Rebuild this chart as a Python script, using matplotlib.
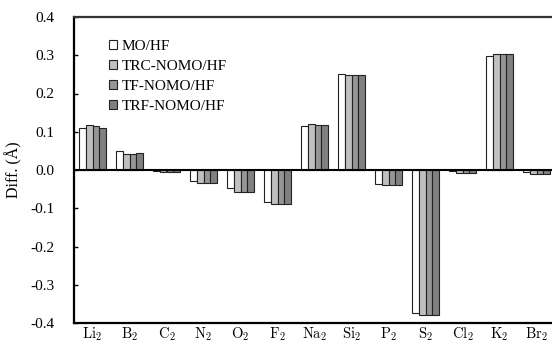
import numpy as np
import matplotlib
matplotlib.use("Agg")
from matplotlib import pyplot as plt

# dados
molecules = ["Li", "B", "C", "N", "O", "F", "Na", "Si", "P", "S", "Cl", "K", "Br"]
series_names = ["MO/HF", "TRC-NOMO/HF", "TF-NOMO/HF", "TRF-NOMO/HF"]
mo_hf = [0.110, 0.050, -0.002, -0.028, -0.048, -0.083, 0.115, 0.252, -0.036, -0.374, -0.003, 0.298, -0.004]
trc_nomo = [0.118, 0.041, -0.005, -0.035, -0.057, -0.090, 0.119, 0.249, -0.038, -0.379, -0.008, 0.304, -0.011]
tf_nomo = [0.116, 0.041, -0.005, -0.035, -0.057, -0.090, 0.117, 0.249, -0.038, -0.379, -0.008, 0.304, -0.011]
trf_nomo = [0.111, 0.044, -0.005, -0.034, -0.057, -0.090, 0.117, 0.249, -0.038, -0.379, -0.008, 0.304, -0.011]
y_ticks = [0.4, 0.3, 0.2, 0.1, 0.0, -0.1, -0.2, -0.3, -0.4]

colors = ["#ffffff", "#c0c0c0", "#969696", "#808080"]

plt.rcParams["font.family"] = ["Liberation Serif", "DejaVu Serif"]
plt.rcParams["mathtext.fontset"] = "cm"


def plot_chart():
    fig = plt.figure(figsize=(5.52, 3.42), dpi=100)
    # eixo passa um pouco da borda direita, como na imagem original
    ax = fig.add_axes([74 / 552, 19 / 342, 481 / 552, 306 / 342])

    x = np.arange(len(molecules))
    width = 0.18
    all_series = [mo_hf, trc_nomo, tf_nomo, trf_nomo]
    for i, values in enumerate(all_series):
        ax.bar(x + (i - 1.5) * width, values, width, color=colors[i],
               edgecolor="#222222", linewidth=0.8, label=series_names[i])

    ax.axhline(0, color="black", linewidth=1.5)
    ax.set_xlim(-0.5, len(molecules) - 0.5)
    ax.set_ylim(-0.4, 0.4)
    ax.set_yticks(y_ticks)
    ax.set_yticklabels(["%.1f" % t for t in y_ticks], fontsize=11)
    ax.tick_params(axis="y", direction="in", length=3, width=1, pad=14)
    ax.set_xticks(x)
    ax.set_xticklabels([r"$\mathrm{%s}_2$" % m for m in molecules], fontsize=10.5)
    ax.tick_params(axis="x", length=0, pad=2)
    ax.set_ylabel(u"Diff. (Å)", fontsize=11.5, labelpad=6)

    for side in ["left", "bottom", "top", "right"]:
        ax.spines[side].set_linewidth(1.6)
    ax.spines["top"].set_color("#333333")

    ax.legend(loc="upper left", bbox_to_anchor=(0.05, 0.96), frameon=False,
              fontsize=11, handlelength=0.55, handleheight=0.55,
              handletextpad=0.3, labelspacing=0.45, borderpad=0.2)

    fig.savefig("out.png", dpi=100)


def main():
    plot_chart()


if __name__ == "__main__":
    main()
